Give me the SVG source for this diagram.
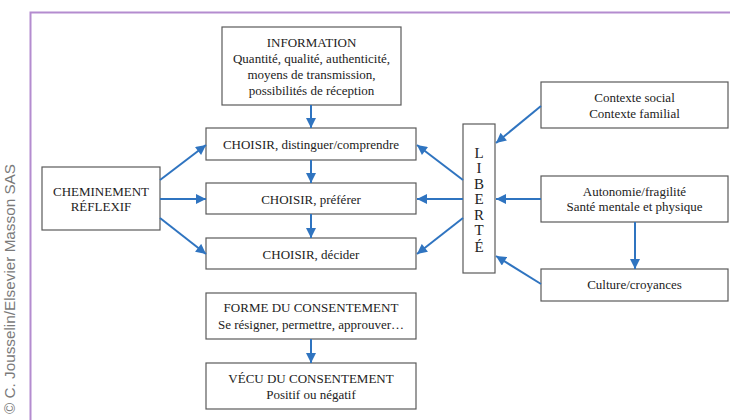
<svg xmlns="http://www.w3.org/2000/svg" width="730" height="420" viewBox="0 0 730 420">
<style>
.box{fill:#fff;stroke:#5a5a5a;stroke-width:1.2}
.t{font-family:"Liberation Serif","Times New Roman",serif;font-size:13px;fill:#222;text-anchor:middle}
.lt{font-family:"Liberation Serif","Times New Roman",serif;font-size:15px;fill:#222;text-anchor:middle}
.c{stroke:#2f74c0;stroke-width:2;fill:none;marker-end:url(#ah)}
</style>
<defs>
<marker id="ah" viewBox="0 0 10 10" refX="10" refY="5" markerWidth="5.5" markerHeight="5" markerUnits="strokeWidth" orient="auto">
<path d="M0,0 L10,5 L0,10 z" fill="#2f74c0"/>
</marker>
</defs>
<rect width="730" height="420" fill="#fff"/>
<path d="M30.5,420 V12.5 H730" fill="none" stroke="#b48ccf" stroke-width="2"/>
<text transform="translate(15,289) rotate(-90)" font-family="'Liberation Sans',Arial,sans-serif" font-size="14" fill="#7a7a7a" text-anchor="middle" textLength="250" lengthAdjust="spacingAndGlyphs">© C. Jousselin/Elsevier Masson SAS</text>

<g id="information">
<rect class="box" x="222" y="27" width="179" height="78"/>
<text class="t" x="311.5" y="47">INFORMATION</text>
<text class="t" x="311.5" y="63">Quantité, qualité, authenticité,</text>
<text class="t" x="311.5" y="79">moyens de transmission,</text>
<text class="t" x="311.5" y="95">possibilités de réception</text>
</g>
<g id="choisir1">
<rect class="box" x="206" y="128" width="210" height="32"/>
<text class="t" x="311" y="148.5">CHOISIR, distinguer/comprendre</text>
</g>
<g id="choisir2">
<rect class="box" x="206" y="183" width="210" height="31"/>
<text class="t" x="311" y="203.5">CHOISIR, préférer</text>
</g>
<g id="choisir3">
<rect class="box" x="206" y="238" width="210" height="31"/>
<text class="t" x="311" y="258.5">CHOISIR, décider</text>
</g>
<g id="cheminement">
<rect class="box" x="42" y="167" width="118" height="63"/>
<text class="t" x="101" y="195.5">CHEMINEMENT</text>
<text class="t" x="101" y="210.5">RÉFLEXIF</text>
</g>
<g id="liberte">
<rect class="box" x="463" y="124" width="32" height="149"/>
<text class="lt" x="479" y="158">L</text>
<text class="lt" x="479" y="173">I</text>
<text class="lt" x="479" y="188.5">B</text>
<text class="lt" x="479" y="204">E</text>
<text class="lt" x="479" y="219.5">R</text>
<text class="lt" x="479" y="235">T</text>
<text class="lt" x="479" y="252">É</text>
</g>
<g id="contexte">
<rect class="box" x="541" y="82" width="187" height="46"/>
<text class="t" x="634.5" y="101.5">Contexte social</text>
<text class="t" x="634.5" y="117.5">Contexte familial</text>
</g>
<g id="autonomie">
<rect class="box" x="541" y="176" width="187" height="46"/>
<text class="t" x="634.5" y="195.5">Autonomie/fragilité</text>
<text class="t" x="634.5" y="211">Santé mentale et physique</text>
</g>
<g id="culture">
<rect class="box" x="541" y="269" width="187" height="32"/>
<text class="t" x="634.5" y="288.5">Culture/croyances</text>
</g>
<g id="forme">
<rect class="box" x="206" y="293" width="210" height="46"/>
<text class="t" x="311" y="312">FORME DU CONSENTEMENT</text>
<text class="t" x="311" y="328.5">Se résigner, permettre, approuver…</text>
</g>
<g id="vecu">
<rect class="box" x="206" y="363" width="210" height="46"/>
<text class="t" x="311" y="383">VÉCU DU CONSENTEMENT</text>
<text class="t" x="311" y="398.5">Positif ou négatif</text>
</g>

<g id="connectors">
<line class="c" x1="311" y1="105" x2="311" y2="128"/>
<line class="c" x1="311" y1="160" x2="311" y2="183"/>
<line class="c" x1="311" y1="214" x2="311" y2="238"/>
<line class="c" x1="311" y1="339" x2="311" y2="363"/>
<line class="c" x1="160" y1="180" x2="206" y2="145"/>
<line class="c" x1="160" y1="199" x2="206" y2="199"/>
<line class="c" x1="160" y1="218" x2="206" y2="254"/>
<line class="c" x1="463" y1="180" x2="417" y2="145"/>
<line class="c" x1="463" y1="199" x2="417" y2="199"/>
<line class="c" x1="463" y1="218" x2="417" y2="254"/>
<line class="c" x1="541" y1="106" x2="496" y2="143"/>
<line class="c" x1="541" y1="199" x2="496" y2="199"/>
<line class="c" x1="541" y1="284" x2="496" y2="256"/>
<line class="c" x1="635" y1="222" x2="635" y2="269"/>
</g>
</svg>
